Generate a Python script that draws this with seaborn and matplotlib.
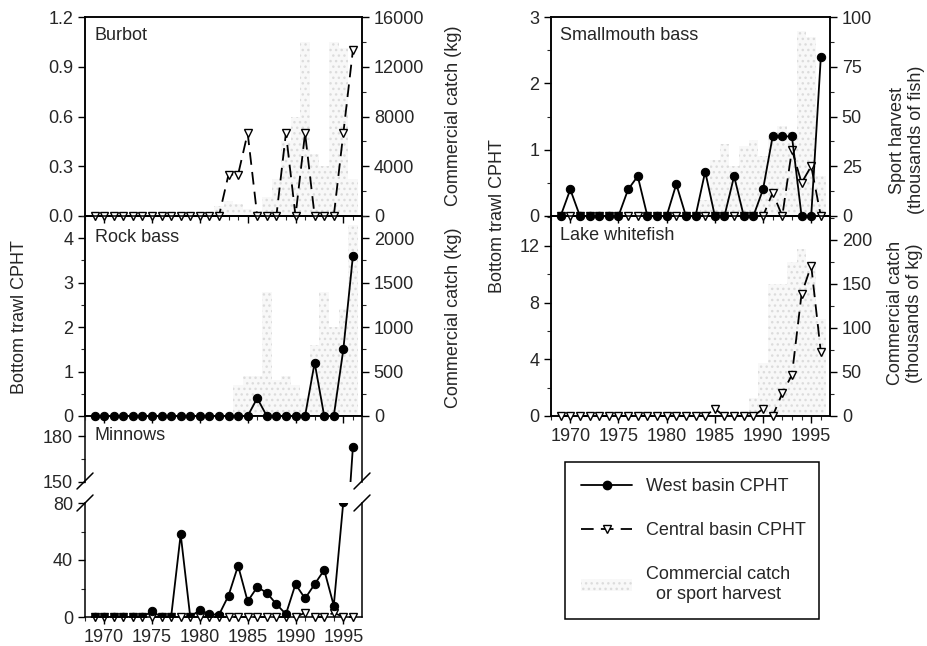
###########################################################################################
# imports
import matplotlib
matplotlib.use('Agg')
import matplotlib.pyplot as plt
import seaborn as sns
from matplotlib.lines import Line2D
from matplotlib.patches import Patch
from matplotlib.ticker import MultipleLocator, FormatStrFormatter

###########################################################################################
# data

years = list(range(1969, 1997))

burbot_central = [0, 0, 0, 0, 0, 0, 0, 0, 0, 0, 0, 0, 0, 0,
                  0.25, 0.25, 0.5, 0, 0, 0, 0.5, 0, 0.5, 0, 0, 0, 0.5, 1.0]
burbot_catch = [0, 0, 0, 0, 0, 0, 0, 0, 0, 0, 0, 0,
                300, 800, 1200, 1000, 600, 400, 1500, 3000, 6000, 8000,
                14000, 5000, 4000, 14000, 13500, 3000]

rockbass_west = [0, 0, 0, 0, 0, 0, 0, 0, 0, 0, 0, 0, 0, 0, 0, 0, 0,
                 0.4, 0, 0, 0, 0, 0, 1.2, 0, 0, 1.5, 3.6]
rockbass_catch = [0, 0, 0, 0, 0, 0, 0, 0, 0, 0, 0, 0, 0, 0, 0,
                  350, 450, 450, 1400, 400, 450, 350, 200, 800, 1400, 1000,
                  1200, 2150]

minnow_west = [0, 0, 0, 0, 0, 0, 4, 0, 0, 58, 0, 5, 2, 1.5,
               15, 36, 11, 21, 17, 9, 2, 23, 13, 23, 33, 8, 81, 173]
minnow_central = [0, 0, 0, 0, 0, 0, 0, 0, 0, 0, 0, 0, 0, 0,
                  0, 0, 0, 0, 0, 0, 0, 0, 3, 0, 0, 3, 0, 0]

smallmouth_west = [0, 0.4, 0, 0, 0, 0, 0, 0.4, 0.6, 0, 0, 0, 0.48, 0,
                   0, 0.67, 0, 0, 0.6, 0, 0, 0.4, 1.2, 1.2, 1.2, 0, 0, 2.4]
smallmouth_central = [0, 0, 0, 0, 0, 0, 0, 0, 0, 0, 0, 0, 0, 0,
                      0, 0, 0, 0, 0, 0, 0, 0, 0.35, 0, 1.0, 0.5, 0.75, 0]
sport_harvest = [0, 0, 0, 0, 0, 0, 0, 0, 0, 0, 0, 0, 0, 0, 0,
                 8, 28, 36, 25, 35, 38, 30, 40, 45, 42, 93, 90, 20]

whitefish_central = [0, 0, 0, 0, 0, 0, 0, 0, 0, 0, 0, 0, 0, 0, 0, 0,
                     0.5, 0, 0, 0, 0, 0.5, 0, 1.6, 2.9, 8.6, 10.6, 4.5]
whitefish_catch = [0, 0, 0, 0, 0, 0, 0, 0, 0, 0, 0, 0, 0, 0, 0, 0, 0, 0, 0, 0,
                   20, 60, 150, 150, 175, 190, 175, 110]

year_ticks = [1970, 1975, 1980, 1985, 1990, 1995]

###########################################################################################
# styling

W, H = 927, 646
FS = 13
BAR_FACE = '#f8f8f8'
BAR_HATCH = '#dcdcdc'

sns.set_style('ticks')
plt.rcParams['font.family'] = ['Liberation Sans', 'DejaVu Sans']
plt.rcParams['hatch.linewidth'] = 1.0
plt.rcParams['axes.linewidth'] = 1.1


def px_axes(fig, x0, y0, x1, y1):
    """adds axes given in pixel coords (origin top left)."""
    return fig.add_axes([x0 / W, 1 - y1 / H, (x1 - x0) / W, (y1 - y0) / H])


def fig_text(fig, x, y, s, **kw):
    fig.text(x / W, 1 - y / H, s, fontsize=FS, **kw)


def style_ax(ax, show_years=False):
    ax.set_xlim(1968.0, 1996.95)
    ax.xaxis.set_major_locator(plt.FixedLocator(year_ticks))
    ax.xaxis.set_minor_locator(MultipleLocator(1))
    ax.tick_params(which='major', direction='out', length=5, width=1,
                   labelsize=FS, color='black')
    ax.tick_params(which='minor', direction='out', length=3, width=0.8)
    ax.tick_params(axis='x', labelbottom=show_years)
    ax.set_xlabel('')
    ax.set_ylabel('')
    for sp in ax.spines.values():
        sp.set_visible(True)
        sp.set_color('black')


def draw_west(ax, values):
    sns.lineplot(x=years, y=values, ax=ax, color='black', linewidth=1.3,
                 marker='o', markersize=6, markerfacecolor='black',
                 markeredgecolor='black', clip_on=False, zorder=5,
                 legend=False)


def draw_central(ax, values):
    sns.lineplot(x=years, y=values, ax=ax, color='black', linewidth=1.3,
                 linestyle=(0, (7, 4)), marker='v', markersize=5.5,
                 markerfacecolor='white', markeredgecolor='black',
                 markeredgewidth=1.0, clip_on=False, zorder=4, legend=False)


def draw_bars(ax, values):
    sns.histplot(x=years, weights=values, discrete=True, ax=ax,
                 color=BAR_FACE, edgecolor=BAR_HATCH, linewidth=0,
                 hatch='...', alpha=1, legend=False)
    ax.set_ylabel('')


def twin_with_bars(ax, values, ymax, major, minor):
    tw = ax.twinx()
    draw_bars(tw, values)
    tw.set_ylim(0, ymax)
    tw.yaxis.set_major_locator(MultipleLocator(major))
    tw.yaxis.set_minor_locator(MultipleLocator(minor))
    style_ax(tw)
    ax.set_zorder(tw.get_zorder() + 1)
    ax.patch.set_visible(False)
    return tw


def draw_break(fig, x, y):
    fig.add_artist(Line2D([(x - 8) / W, (x + 8) / W],
                          [1 - (y + 8) / H, 1 - (y - 8) / H],
                          color='black', linewidth=1.1))


###########################################################################################
# plotting

def main():
    fig = plt.figure(figsize=(W / 100, H / 100), dpi=100)

    lx0, lx1 = 85, 362
    rx0, rx1 = 551, 830

    # burbot
    ax = px_axes(fig, lx0, 17, lx1, 216)
    twin_with_bars(ax, burbot_catch, 16000, 4000, 2000)
    draw_central(ax, burbot_central)
    ax.set_ylim(0, 1.2)
    ax.yaxis.set_major_locator(MultipleLocator(0.3))
    ax.yaxis.set_major_formatter(FormatStrFormatter('%.1f'))
    style_ax(ax)

    # rock bass
    ax = px_axes(fig, lx0, 216, lx1, 416)
    twin_with_bars(ax, rockbass_catch, 2250, 500, 250)
    draw_west(ax, rockbass_west)
    ax.set_ylim(0, 4.5)
    ax.yaxis.set_major_locator(MultipleLocator(1))
    ax.yaxis.set_minor_locator(MultipleLocator(0.5))
    style_ax(ax)

    # minnows, upper part of the broken axis
    ax = px_axes(fig, lx0, 416, lx1, 482)
    draw_west(ax, minnow_west)
    ax.set_ylim(150, 150 + 66 / 1.53)
    ax.yaxis.set_major_locator(MultipleLocator(30))
    ax.yaxis.set_minor_locator(MultipleLocator(15))
    style_ax(ax)
    ax.spines['bottom'].set_visible(False)
    ax.tick_params(axis='x', which='both', bottom=False)
    ax.tick_params(axis='y', which='both', right=False)
    for line in ax.get_lines():
        line.set_clip_on(True)

    # minnows, lower part
    ax = px_axes(fig, lx0, 503, lx1, 617)
    draw_central(ax, minnow_central)
    draw_west(ax, minnow_west)
    ax.set_ylim(0, 80)
    ax.yaxis.set_major_locator(MultipleLocator(40))
    ax.yaxis.set_minor_locator(MultipleLocator(20))
    style_ax(ax, show_years=True)
    ax.spines['top'].set_visible(False)
    ax.get_lines()[-1].set_clip_on(True)
    ax.tick_params(axis='y', which='both', right=False)

    for bx in (lx0, lx1):
        draw_break(fig, bx, 481)
        draw_break(fig, bx, 503)

    # smallmouth bass
    ax = px_axes(fig, rx0, 17, rx1, 216)
    twin_with_bars(ax, sport_harvest, 100, 25, 12.5)
    draw_central(ax, smallmouth_central)
    draw_west(ax, smallmouth_west)
    ax.set_ylim(0, 3)
    ax.yaxis.set_major_locator(MultipleLocator(1))
    ax.yaxis.set_minor_locator(MultipleLocator(0.5))
    style_ax(ax)

    # lake whitefish
    ax = px_axes(fig, rx0, 216, rx1, 416)
    twin_with_bars(ax, whitefish_catch, 227, 50, 25)
    draw_central(ax, whitefish_central)
    ax.set_ylim(0, 14.1)
    ax.yaxis.set_major_locator(MultipleLocator(4))
    ax.yaxis.set_minor_locator(MultipleLocator(2))
    style_ax(ax, show_years=True)

    # panel names
    fig_text(fig, 95, 35, 'Burbot', va='center')
    fig_text(fig, 95, 237, 'Rock bass', va='center')
    fig_text(fig, 95, 435, 'Minnows', va='center')
    fig_text(fig, 560, 35, 'Smallmouth bass', va='center')
    fig_text(fig, 560, 235, 'Lake whitefish', va='center')

    # axis titles
    fig_text(fig, 20, 317, 'Bottom trawl CPHT', rotation=90,
             ha='center', va='center')
    fig_text(fig, 453, 116, 'Commercial catch (kg)', rotation=90,
             ha='center', va='center')
    fig_text(fig, 453, 318, 'Commercial catch (kg)', rotation=90,
             ha='center', va='center')
    fig_text(fig, 497, 216, 'Bottom trawl CPHT', rotation=90,
             ha='center', va='center')
    fig_text(fig, 907, 140, 'Sport harvest\n(thousands of fish)', rotation=90,
             ha='center', va='center', multialignment='center')
    fig_text(fig, 905, 313, 'Commercial catch\n(thousands of kg)', rotation=90,
             ha='center', va='center', multialignment='center')

    # legend
    handles = [
        Line2D([], [], color='black', linewidth=1.3, marker='o',
               markersize=6),
        Line2D([], [], color='black', linewidth=1.3, linestyle=(0, (7, 4)),
               marker='v', markersize=5.5, markerfacecolor='white',
               markeredgecolor='black'),
        Patch(facecolor=BAR_FACE, edgecolor=BAR_HATCH, hatch='...',
              linewidth=0),
    ]
    labels = ['West basin CPHT', 'Central basin CPHT',
              'Commercial catch\nor sport harvest']
    leg = fig.legend(handles, labels, loc='upper left',
                     bbox_to_anchor=(565 / W, 1 - 462 / H, 254 / W, 0),
                     mode='expand', fontsize=FS, frameon=True, fancybox=False,
                     edgecolor='black', framealpha=1, handlelength=2.8,
                     handletextpad=0.8, labelspacing=1.5, borderpad=0.9,
                     borderaxespad=0)
    leg.get_frame().set_linewidth(1.1)
    for t in leg.get_texts():
        t.set_multialignment('center')

    fig.savefig('out.png', dpi=100)
    plt.close(fig)


######################################################################
# running main function

if __name__ == '__main__':
    main()
